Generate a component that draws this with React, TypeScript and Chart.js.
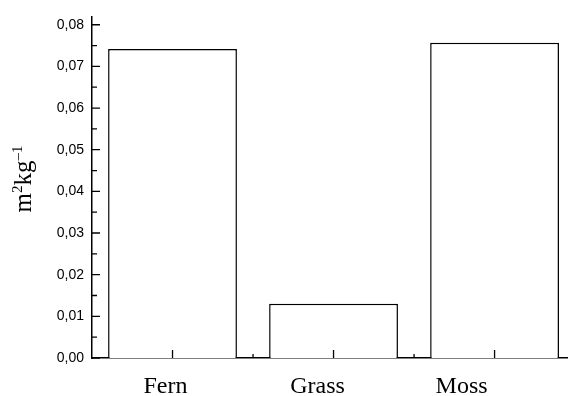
import React, { useEffect, useRef } from "react";
import { Chart, registerables } from "chart.js";

Chart.register(...registerables);

// Surface area per mass for each plant group
const CATEGORIES = ["Fern", "Grass", "Moss"];
const VALUES = [0.0742, 0.013, 0.0757];
const Y_TICKS = [0, 0.01, 0.02, 0.03, 0.04, 0.05, 0.06, 0.07, 0.08];
// Y axis title pieces: [text, superscript?]
const Y_TITLE: [string, boolean][] = [
  ["m", false],
  ["2", true],
  ["kg", false],
  ["\u20131", true],
];

const SERIF = "'Liberation Serif', 'Times New Roman', serif";
const SANS = "'Liberation Sans', Arial, sans-serif";
// horizontal nudge (px) of each category caption relative to its bar centre
const LABEL_SHIFT = [-7, -16, -33];

// Inward tick marks (major + minor) on both axes, category captions and the unit title
const axisDecor = {
  id: "axisDecor",
  afterDraw(chart: any) {
    const { ctx, chartArea, scales } = chart;
    const x = scales.x;
    const y = scales.y;
    ctx.save();
    ctx.strokeStyle = "#000";
    ctx.lineWidth = 1.3;
    ctx.beginPath();
    // y-axis ticks
    for (let i = 0; i < Y_TICKS.length; i++) {
      const py = y.getPixelForValue(Y_TICKS[i]);
      ctx.moveTo(chartArea.left, py);
      ctx.lineTo(chartArea.left + 8, py);
      if (i < Y_TICKS.length - 1) {
        const my = y.getPixelForValue((Y_TICKS[i] + Y_TICKS[i + 1]) / 2);
        ctx.moveTo(chartArea.left, my);
        ctx.lineTo(chartArea.left + 5, my);
      }
    }
    // x-axis ticks: category centres and boundaries
    for (let i = 0; i < CATEGORIES.length; i++) {
      const px = x.getPixelForValue(i + 1);
      ctx.moveTo(px, chartArea.bottom);
      ctx.lineTo(px, chartArea.bottom - 8);
      const bx = x.getPixelForValue(i + 1.5);
      if (bx < chart.width) {
        ctx.moveTo(bx, chartArea.bottom);
        ctx.lineTo(bx, chartArea.bottom - 4);
      }
    }
    ctx.stroke();

    // category captions
    ctx.fillStyle = "#000";
    ctx.font = `24px ${SERIF}`;
    ctx.textAlign = "center";
    ctx.textBaseline = "alphabetic";
    CATEGORIES.forEach((c, i) => {
      ctx.fillText(c, x.getPixelForValue(i + 1) + LABEL_SHIFT[i], chartArea.bottom + 35);
    });

    // unit title
    ctx.textAlign = "left";
    ctx.translate(31, 179);
    ctx.rotate(-Math.PI / 2);
    const big = `25px ${SERIF}`;
    const small = `15px ${SERIF}`;
    let total = 0;
    for (const [t, sup] of Y_TITLE) {
      ctx.font = sup ? small : big;
      total += ctx.measureText(t).width;
    }
    let cx = -total / 2;
    for (const [t, sup] of Y_TITLE) {
      ctx.font = sup ? small : big;
      ctx.fillText(t, cx, sup ? -9 : 0);
      cx += ctx.measureText(t).width;
    }
    ctx.restore();
  },
};

export default function App() {
  const canvasRef = useRef<HTMLCanvasElement | null>(null);

  useEffect(() => {
    document.body.style.margin = "0";
    const canvas = canvasRef.current;
    if (!canvas) return;
    const chart = new Chart(canvas, {
      type: "bar",
      data: {
        datasets: [
          {
            data: VALUES.map((v, i) => ({ x: i + 1, y: v })),
            backgroundColor: "#ffffff",
            borderColor: "#000000",
            borderWidth: 1.5,
            categoryPercentage: 1,
            barPercentage: 0.8,
          },
        ],
      },
      options: {
        animation: false,
        responsive: true,
        maintainAspectRatio: false,
        layout: { padding: { top: 12, right: 0, bottom: 0, left: 0 } },
        plugins: {
          legend: { display: false },
          tooltip: { enabled: false },
        },
        scales: {
          x: {
            type: "linear",
            offset: false,
            min: 0.5,
            max: 3.456,
            grid: { display: false, drawTicks: false },
            border: { display: true, color: "#000", width: 1.5 },
            afterBuildTicks: (scale: any) => {
              scale.ticks = CATEGORIES.map((_, i) => ({ value: i + 1 }));
            },
            afterFit: (scale: any) => {
              scale.height = 38;
            },
            ticks: { display: false },
          },
          y: {
            min: 0,
            max: 0.082,
            grid: { display: false, drawTicks: false },
            border: { display: true, color: "#000", width: 1.5 },
            afterBuildTicks: (scale: any) => {
              scale.ticks = Y_TICKS.map((v) => ({ value: v }));
            },
            afterFit: (scale: any) => {
              scale.width = 92;
            },
            ticks: {
              padding: 8,
              color: "#000",
              font: { family: SANS, size: 14 },
              callback: (v: any) => Number(v).toFixed(2).replace(".", ","),
            },
          },
        },
      },
      plugins: [axisDecor],
    });
    return () => chart.destroy();
  }, []);

  return (
    <div style={{ position: "relative", width: 568, height: 396 }}>
      <canvas ref={canvasRef} />
    </div>
  );
}
